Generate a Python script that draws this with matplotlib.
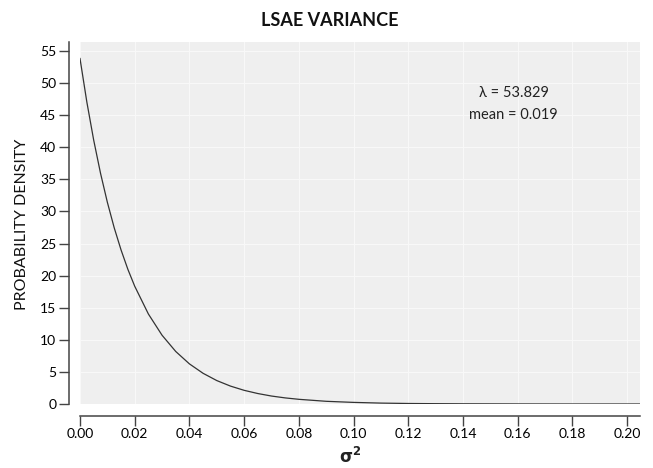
import matplotlib
matplotlib.use("Agg")
import matplotlib.pyplot as plt

plt.rcParams['font.family'] = ['Lato', 'DejaVu Sans']

# density values
sigma2 = [0.0, 0.0025, 0.005, 0.0075, 0.01, 0.0125, 0.015, 0.0175, 0.02, 0.025,
          0.03, 0.035, 0.04, 0.045, 0.05, 0.055, 0.06, 0.065, 0.07, 0.075,
          0.08, 0.09, 0.10, 0.11, 0.12, 0.13, 0.14, 0.15, 0.16, 0.18, 0.20, 0.2047]
density = [53.83, 47.05, 41.12, 35.95, 31.43, 27.46, 24.01, 20.98, 18.35, 14.02,
           10.71, 8.18, 6.25, 4.78, 3.65, 2.79, 2.13, 1.63, 1.24, 0.95,
           0.73, 0.42, 0.25, 0.14, 0.08, 0.05, 0.03, 0.02, 0.01, 0.0, 0.0, 0.0]
x_ticks = [0.00, 0.02, 0.04, 0.06, 0.08, 0.10, 0.12, 0.14, 0.16, 0.18, 0.20]
y_ticks = [0, 5, 10, 15, 20, 25, 30, 35, 40, 45, 50, 55]
lam_text = "λ = 53.829"
mean_text = "mean = 0.019"

fig = plt.figure(figsize=(6.53, 4.68), dpi=100)
ax = fig.add_axes([80 / 653, 1 - 404 / 468, 560 / 653, 362 / 468])
ax.set_facecolor('#efefef')

ax.plot(sigma2, density, color='#333333', lw=0.9)

ax.set_xlim(0, 0.2047)
ax.set_ylim(0, 56.4)
ax.set_xticks(x_ticks)
ax.set_xticklabels(["%.2f" % v for v in x_ticks], family='DejaVu Sans Mono',
                   fontsize=7.3, color='#555555')
ax.set_yticks(y_ticks)
ax.set_yticklabels([str(v) for v in y_ticks], fontsize=8.5, color='#555555')
ax.grid(True, color='#f9f9f9', lw=0.7)
ax.set_axisbelow(True)

for s in ['top', 'right']:
    ax.spines[s].set_visible(False)
ax.spines['left'].set_position(('outward', 8))
ax.spines['bottom'].set_position(('outward', 8.6))
for s in ['left', 'bottom']:
    ax.spines[s].set_color('#444444')
    ax.spines[s].set_linewidth(1.1)
ax.tick_params(direction='out', length=7, width=1, color='#444444', pad=2)

ax.text(0.1585, 48.5, lam_text, ha='center', va='center', fontsize=10.5, color='#222222')
ax.text(0.1585, 45.0, mean_text, ha='center', va='center', fontsize=10.5, color='#222222')

fig.text(330 / 653, 1 - 20 / 468, "LSAE VARIANCE", ha='center', va='center',
         fontsize=13, fontweight='bold', color='#111111')
fig.text(22 / 653, 1 - 224 / 468, "PROBABILITY DENSITY", ha='center', va='center',
         rotation=90, fontsize=11.5, color='#111111')
fig.text(350 / 653, 1 - 456 / 468, r"$\mathbf{\sigma^2}$", ha='center', va='center',
         fontsize=12, color='#222222')

fig.savefig("out.png", dpi=100)
